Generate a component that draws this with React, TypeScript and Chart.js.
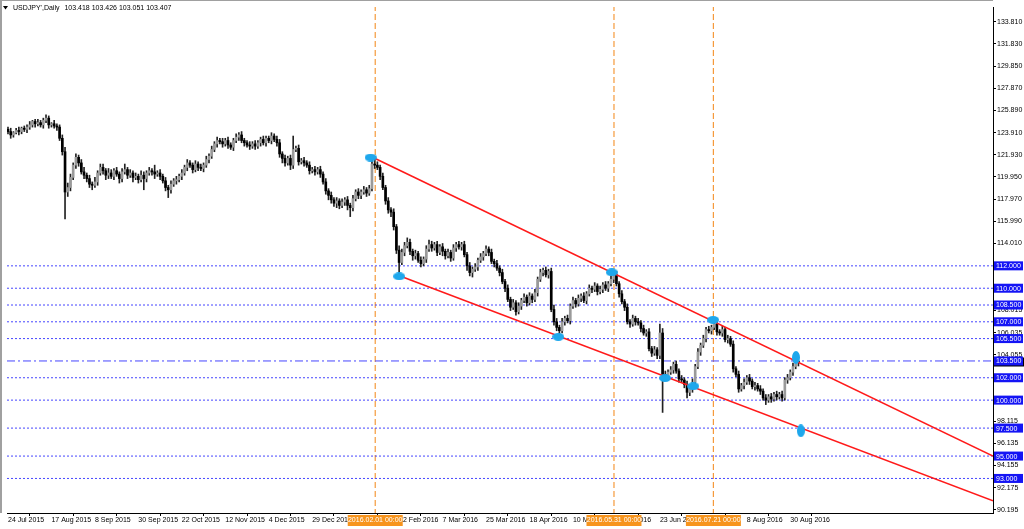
import React, { useEffect, useRef } from "react";
import { Chart, registerables } from "chart.js";

Chart.register(...registerables);

// ---------- header ----------
const headerSymbol = "USDJPY',Daily";
const headerOHLC = ["103.418", "103.426", "103.051", "103.407"];

// ---------- candle data (one entry per daily bar, left to right) ----------
const firstOpen = 124.2;
const closes = [
  124.0, 123.7, 123.9, 124.1, 124.0, 124.3, 124.2, 124.4, 124.6, 124.9,
  124.7, 124.8, 124.6, 125.0, 125.2, 124.6, 124.7, 124.5, 124.4, 123.4,
  122.2, 118.6, 119.0, 119.9, 121.0, 121.7, 121.2, 120.4, 120.1, 119.8,
  119.3, 119.2, 119.5, 120.3, 120.8, 120.5, 120.1, 120.3, 120.0, 120.5,
  120.2, 119.8, 120.4, 120.6, 120.1, 120.3, 119.9, 120.0, 119.7, 120.1,
  119.8, 120.3, 120.5, 120.4, 120.2, 120.3, 120.0, 119.6, 119.0, 118.8,
  119.3, 119.6, 119.7, 120.0, 120.3, 120.8, 121.2, 121.0, 120.6, 121.1,
  120.8, 120.7, 121.0, 121.5, 121.8, 122.4, 122.9, 123.2, 123.1, 122.9,
  123.2, 122.8, 122.6, 123.2, 123.5, 123.7, 123.2, 123.0, 122.8, 122.7,
  122.9, 122.7, 123.0, 123.3, 123.0, 123.4, 123.2, 123.6, 123.3, 123.0,
  122.0, 121.6, 121.2, 121.6, 121.0, 122.4, 122.5, 121.3, 121.4, 121.2,
  121.0, 120.5, 120.6, 120.4, 120.6, 120.2, 119.5, 118.7, 118.3, 117.9,
  117.6, 117.8, 117.4, 117.7, 117.9, 117.4, 117.2, 118.0, 118.6, 118.3,
  118.6, 118.8, 118.5, 118.9, 121.1, 121.0, 120.8, 120.0, 119.0, 117.8,
  117.0, 116.8, 115.5, 113.4, 112.3, 113.2, 113.8, 114.1, 113.3, 112.9,
  113.1, 112.5, 112.2, 112.6, 113.5, 113.9, 113.6, 113.9, 113.2, 113.7,
  113.3, 112.9, 113.2, 112.7, 113.6, 113.9, 113.7, 113.9, 113.0, 112.0,
  111.4, 111.7, 111.9, 112.5, 112.8, 113.1, 113.5, 113.2, 112.4, 112.2,
  111.8, 111.4, 110.6, 110.0, 109.0, 108.3, 108.7, 107.9, 108.4, 108.9,
  109.2, 108.7, 109.3, 109.0, 109.6, 110.8, 111.4, 111.6, 111.2, 111.5,
  108.1, 107.0, 106.5, 106.2, 107.0, 107.3, 107.1, 108.4, 108.9, 108.6,
  109.1, 109.3, 108.9, 109.5, 110.0, 109.9, 110.2, 109.7, 109.9, 110.3,
  110.0, 110.4, 110.8, 111.2, 110.4, 109.5, 108.8, 108.3, 107.0, 106.8,
  107.3, 107.0, 106.9, 106.4, 106.0, 106.1, 104.6, 104.2, 104.5, 104.0,
  106.0, 102.3, 102.1, 102.5, 102.7, 103.2, 102.6, 101.9, 101.8, 101.4,
  100.7, 101.0, 101.6, 103.0, 104.3, 104.9, 105.5, 106.3, 106.2, 106.5,
  106.8, 106.1, 106.0, 106.3, 105.4, 105.5, 105.0, 102.8, 102.3, 101.0,
  101.3, 101.6, 102.0, 101.7, 101.2, 101.3, 101.0, 100.8, 100.2, 100.0,
  100.3, 100.1, 100.5, 100.3, 100.5, 100.2, 101.8, 102.0, 102.5, 103.0,
  103.418, 103.407,
];
// upper wick length above the body, per bar
const upperWicks = [
  .2, .3, .1, .2, .3, .1, .2, .2, .3, .1,
  .2, .3, .2, .2, .3, .2, .1, .3, .2, .2,
  .3, .4, .4, .3, .2, .3, .2, .3, .4, .2,
  .3, .2, .4, .2, .3, .3, .2, .4, .3, .2,
  .3, .2, .3, .5, .2, .3, .2, .3, .2, .4,
  .3, .2, .3, .2, .6, .2, .3, .2, .3, .2,
  .3, .2, .3, .2, .3, .2, .3, .2, .2, .3,
  .2, .3, .2, .3, .2, .3, .2, .3, .2, .3,
  .2, .3, .2, .2, .3, .2, .3, .2, .2, .3,
  .2, .3, .2, .2, .3, .2, .2, .3, .2, .3,
  .3, .2, .3, .2, .3, 1.2, .2, .3, .2, .3,
  .2, .3, .2, .3, .2, .3, .2, .3, .2, .3,
  .2, .3, .2, .3, .2, .3, .2, .3, .2, .3,
  .2, .3, .2, .3, .5, .7, .3, .2, .3, .2,
  .3, .2, .3, .2, .4, .3, .3, .4, .3, .2,
  .3, .2, .3, .2, .3, .4, .3, .2, .3, .2,
  .3, .2, .3, .2, .3, .2, .3, .2, .3, .2,
  .3, .2, .3, .2, .3, .2, .3, .2, .3, .2,
  .3, .2, .3, .2, .3, .2, .3, .2, .3, .2,
  .3, .2, .3, .2, .3, .2, .3, .2, .3, .2,
  .3, .4, .3, .2, .3, .2, .3, .2, .3, .2,
  .3, .2, .3, .2, .3, .2, .3, .2, .3, .2,
  .3, .2, .3, .3, .3, .2, .3, .2, .3, .2,
  .3, .2, .3, .2, .3, .2, .3, .2, .3, .2,
  .8, .4, .3, .2, .3, .2, .3, .2, .3, .2,
  .3, .2, .3, .2, .3, .2, .3, .2, .3, .2,
  .6, .3, .2, .3, .2, .3, .2, .3, .2, .3,
  .2, .3, .2, .3, .2, .3, .2, .3, .2, .3,
  .2, .3, .2, .3, .2, .3, .2, .3, .2, .3,
  .2, .008,
];
// lower wick length below the body, per bar
const lowerWicks = [
  .2, .3, .2, .1, .3, .2, .2, .3, .2, .2,
  .3, .2, .2, .3, .2, .3, .2, .2, .3, .2,
  .3, 2.4, .4, .3, .2, .3, .3, .2, .3, .3,
  .3, .4, .2, .3, .2, .3, .4, .3, .2, .3,
  .2, .4, .3, .2, .3, .2, .4, .2, .3, .2,
  1.0, .3, .2, .3, .4, .2, .3, .2, .3, .7,
  .3, .2, .3, .2, .3, .2, .3, .2, .3, .2,
  .3, .2, .3, .2, .3, .2, .2, .3, .2, .3,
  .2, .3, .2, .3, .2, .3, .2, .3, .2, .3,
  .2, .3, .2, .3, .2, .3, .2, .3, .2, .3,
  .3, .4, .3, .2, .4, .3, .2, .3, .2, .3,
  .2, .3, .2, .3, .2, .3, .2, .3, .4, .3,
  .3, .4, .3, .2, .3, .4, .8, .3, .2, .3,
  .3, .2, .3, .2, .2, .3, .2, .3, .2, .3,
  .3, .4, .3, .3, 1.2, .2, .3, .2, .3, .4,
  .3, .2, .3, .2, .3, .2, .3, .2, .3, .2,
  .4, .3, .2, .3, .2, .3, .2, .3, .2, .4,
  .3, .4, .2, .3, .2, .3, .2, .3, .2, .3,
  .2, .3, .2, .3, .2, .3, .2, .3, .2, .3,
  .2, .3, .2, .3, .2, .3, .2, .3, .2, .3,
  .2, .3, .3, .5, .2, .3, .2, .3, .2, .3,
  .2, .3, .2, .3, .2, .3, .2, .3, .2, .3,
  .2, .3, .2, .3, .2, .3, .2, .3, .2, .3,
  .2, .3, .2, .3, .2, .3, .2, .3, .2, .3,
  .3, 3.4, .3, .3, .2, .3, .2, .3, .2, .3,
  .5, .3, .3, .3, .2, .3, .2, .3, .2, .3,
  .2, .3, .2, .3, .2, .3, .2, .3, .2, .3,
  .2, .3, .2, .3, .2, .3, .2, .3, .2, .4,
  .2, .3, .2, .3, .2, .3, .2, .3, .2, .3,
  .2, .356,
];

// ---------- axes ----------
const xMinBar = -0.366;
const xMaxBar = 362.64;
const yMin = 89.912;
const yMax = 135.133;
const xTickBars = [0, 16, 32, 48, 64, 80, 96, 112, 128, 144, 160, 176, 192, 208, 224, 240, 256, 272, 288];
const xTickLabels = [
  "24 Jul 2015", "17 Aug 2015", "8 Sep 2015", "30 Sep 2015", "22 Oct 2015", "12 Nov 2015",
  "4 Dec 2015", "29 Dec 2015", "20 Jan 2016", "12 Feb 2016", "7 Mar 2016", "25 Mar 2016",
  "18 Apr 2016", "10 May 2016", "1 Jun 2016", "23 Jun 2016", "15 Jul 2016", "8 Aug 2016", "30 Aug 2016",
];
const yTickValues = [
  133.81, 131.83, 129.85, 127.87, 125.89, 123.91, 121.93, 119.95, 117.97, 115.99, 114.01,
  108.015, 106.035, 104.055, 98.115, 96.135, 94.155, 92.175, 90.195,
];

// ---------- drawn objects ----------
const levelLines = [112, 110, 108.5, 107, 105.5, 102, 100, 97.5, 95, 93];
const dashDotLevel = 103.5;
const currentPrice = 103.407;
const vLineBars = [135.2, 223.1, 259.7];
const vLineLabels = ["2016.02.01 00:00", "2016.05.31 00:00", "2016.07.21 00:00"];
const upperChannel = [{ x: 134.4, y: 121.68 }, { x: 362.64, y: 95.0 }];
const lowerChannel = [{ x: 143.6, y: 111.15 }, { x: 362.64, y: 91.0 }];
const flatMarkers = [
  { x: 133.5, y: 121.68 }, { x: 144.0, y: 111.06 }, { x: 202.6, y: 105.66 },
  { x: 222.3, y: 111.42 }, { x: 241.9, y: 101.97 }, { x: 252.3, y: 101.24 }, { x: 259.6, y: 107.17 },
];
const tallMarkers = [{ x: 290.1, y: 103.81 }, { x: 291.9, y: 97.26 }];

const FONT = "'Liberation Sans', Arial, sans-serif";
const FS = 7;
const BULL = "#9a9a9a";
const BEAR = "#000000";
const LEVEL_COLOR = "#4646ff";
const LEVEL_BOX = "#1414f5";
const ORANGE_LINE = "#f59a3c";
const ORANGE_BOX = "#f7941d";
const RED = "#ff1a1a";
const MARKER = "#1ea7ec";

function ellipseImage(w: number, h: number, color: string) {
  const c = document.createElement("canvas");
  c.width = w;
  c.height = h;
  const g = c.getContext("2d")!;
  g.fillStyle = color;
  g.beginPath();
  g.ellipse(w / 2, h / 2, w / 2, h / 2, 0, 0, Math.PI * 2);
  g.fill();
  return c;
}

const overlayPlugin = {
  id: "mtOverlay",
  afterDraw(chart: any) {
    const { ctx, chartArea, scales } = chart;
    const ys = scales.y;
    const xs = scales.x;
    ctx.save();
    // window frame
    ctx.fillStyle = "#a0a0a0";
    ctx.fillRect(0, 0, 2, chartArea.bottom);
    ctx.fillRect(0, 0, chartArea.right, 1);
    ctx.font = `${FS}px ${FONT}`;
    ctx.textBaseline = "middle";
    // current price box (mostly hidden)
    const cy = ys.getPixelForValue(currentPrice);
    ctx.fillStyle = "#000";
    ctx.fillRect(chartArea.right + 1, cy - 4.5, 30, 9);
    // level price boxes
    [...levelLines, dashDotLevel].forEach((v) => {
      const py = ys.getPixelForValue(v);
      ctx.fillStyle = LEVEL_BOX;
      ctx.fillRect(chartArea.right + 1, py - 4.5, 29, 9);
      ctx.fillStyle = "#fff";
      ctx.textAlign = "left";
      ctx.fillText(v.toFixed(3), chartArea.right + 3, py + 0.5);
    });
    // vertical line date boxes
    vLineBars.forEach((b, i) => {
      const px = xs.getPixelForValue(b);
      ctx.fillStyle = ORANGE_BOX;
      ctx.fillRect(px - 27.5, chartArea.bottom + 2, 55, 11);
      ctx.fillStyle = "#fff";
      ctx.textAlign = "center";
      ctx.fillText(vLineLabels[i], px, chartArea.bottom + 7.5);
    });
    // header
    ctx.fillStyle = "#000";
    ctx.beginPath();
    ctx.moveTo(3, 6);
    ctx.lineTo(8, 6);
    ctx.lineTo(5.5, 9.5);
    ctx.closePath();
    ctx.fill();
    ctx.textAlign = "left";
    ctx.fillText(headerSymbol, 13, 8);
    const w = ctx.measureText(headerSymbol).width;
    ctx.fillText(headerOHLC.join(" "), 13 + w + 5, 8);
    ctx.restore();
  },
};

export default function App() {
  const ref = useRef<HTMLCanvasElement>(null);

  useEffect(() => {
    const canvas = ref.current;
    if (!canvas) return;
    const opens = closes.map((c, i) => (i === 0 ? firstOpen : closes[i - 1]));
    const highs = closes.map((c, i) => Math.max(opens[i], c) + (upperWicks[i] ?? 0.2));
    const lows = closes.map((c, i) => Math.min(opens[i], c) - (lowerWicks[i] ?? 0.2));
    const wickData = closes.map((_, i) => ({ x: i, y: [lows[i], highs[i]] }));
    const bodyData = closes.map((c, i) => ({ x: i, y: [opens[i], c] }));
    const bodyColors = closes.map((c, i) => (c >= opens[i] ? BULL : BEAR));

    const flatImg = ellipseImage(12, 8, MARKER);
    const tallImg = ellipseImage(8, 13, MARKER);

    const levelDatasets: any[] = levelLines.map((lv) => ({
      type: "line",
      data: [{ x: xMinBar, y: lv }, { x: xMaxBar, y: lv }],
      borderColor: LEVEL_COLOR,
      borderWidth: 1,
      borderDash: [2, 2],
      pointRadius: 0,
      fill: false,
      order: 4,
    }));
    levelDatasets.push({
      type: "line",
      data: [{ x: xMinBar, y: dashDotLevel }, { x: xMaxBar, y: dashDotLevel }],
      borderColor: LEVEL_COLOR,
      borderWidth: 1,
      borderDash: [8, 3, 2, 3],
      pointRadius: 0,
      fill: false,
      order: 4,
    });
    const vDatasets: any[] = vLineBars.map((b) => ({
      type: "line",
      data: [{ x: b, y: yMin - 5 }, { x: b, y: yMax + 5 }],
      borderColor: ORANGE_LINE,
      borderWidth: 1.2,
      borderDash: [6, 3],
      pointRadius: 0,
      fill: false,
      order: 5,
    }));

    const chart = new Chart(canvas, {
      type: "bar",
      data: {
        datasets: [
          {
            type: "line",
            data: flatMarkers,
            showLine: false,
            pointStyle: flatImg,
            pointRadius: 6,
            order: 0,
          } as any,
          {
            type: "line",
            data: tallMarkers,
            showLine: false,
            pointStyle: tallImg,
            pointRadius: 6,
            order: 0,
          } as any,
          {
            type: "line",
            data: upperChannel,
            borderColor: RED,
            borderWidth: 1.6,
            pointRadius: 0,
            fill: false,
            order: 1,
          } as any,
          {
            type: "line",
            data: lowerChannel,
            borderColor: RED,
            borderWidth: 1.6,
            pointRadius: 0,
            fill: false,
            order: 1,
          } as any,
          {
            type: "bar",
            data: bodyData,
            backgroundColor: bodyColors,
            borderWidth: 0,
            barThickness: 2,
            minBarLength: 1,
            grouped: false,
            order: 2,
          } as any,
          {
            type: "bar",
            data: wickData,
            backgroundColor: "#222",
            borderWidth: 0,
            barThickness: 1,
            grouped: false,
            order: 3,
          } as any,
          ...levelDatasets,
          ...vDatasets,
        ],
      },
      options: {
        responsive: false,
        animation: false,
        events: [],
        layout: { padding: { left: 2, top: 2, right: 0, bottom: 0 } },
        plugins: { legend: { display: false }, tooltip: { enabled: false } },
        scales: {
          x: {
            type: "linear",
            min: xMinBar,
            max: xMaxBar,
            offset: false,
            grid: { drawOnChartArea: false, drawTicks: true, tickLength: 3, color: "#000" },
            border: { display: true, color: "#000", width: 1 },
            ticks: {
              autoSkip: false,
              maxRotation: 0,
              minRotation: 0,
              align: "start",
              padding: 0,
              color: "#000",
              font: { family: FONT, size: FS },
              callback: (_v: any, i: number) => xTickLabels[i] ?? "",
            },
            afterBuildTicks: (axis: any) => {
              axis.ticks = xTickBars.map((v) => ({ value: v }));
            },
            afterFit: (axis: any) => {
              axis.height = 16;
              axis.paddingLeft = 0;
              axis.paddingRight = 0;
            },
          } as any,
          y: {
            type: "linear",
            position: "right",
            min: yMin,
            max: yMax,
            grid: { drawOnChartArea: false, drawTicks: true, tickLength: 3, color: "#000" },
            border: { display: true, color: "#000", width: 1 },
            ticks: {
              padding: 1,
              color: "#000",
              font: { family: FONT, size: FS },
              callback: (v: any) => Number(v).toFixed(3),
            },
            afterBuildTicks: (axis: any) => {
              axis.ticks = yTickValues.map((v) => ({ value: v }));
            },
            afterFit: (axis: any) => {
              axis.width = 31;
              axis.paddingTop = 0;
              axis.paddingBottom = 0;
            },
          } as any,
        },
      },
      plugins: [overlayPlugin],
    });

    return () => chart.destroy();
  }, []);

  return (
    <div style={{ position: "fixed", left: 0, top: 0, width: 1024, height: 529, background: "#fff" }}>
      <canvas ref={ref} width={1024} height={529} style={{ display: "block" }} />
    </div>
  );
}
